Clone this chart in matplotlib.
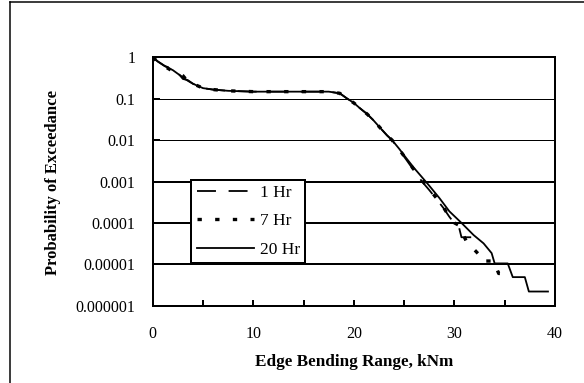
import matplotlib
matplotlib.use("Agg")
import matplotlib.pyplot as plt
from matplotlib.ticker import FixedLocator, FixedFormatter, MultipleLocator, NullLocator
from matplotlib.lines import Line2D

# ---- data ----
x_1hr = [0, 0.5, 1.2, 2.0, 2.5, 3.0, 3.5, 4.0, 5.0, 6.0, 7.5, 10, 12.5, 15, 17.5,
         18.6, 19.3, 20.0, 20.6, 21.3, 21.9, 22.6, 23.3, 23.8, 24.5, 25.2, 26.0,
         26.8, 27.5, 28.2, 28.9, 29.5, 29.9, 30.4, 30.7, 31.8]
p_1hr = [1.0, 0.80, 0.62, 0.52, 0.42, 0.30, 0.28, 0.23, 0.18, 0.166, 0.155, 0.148, 0.148, 0.148, 0.148,
         0.135, 0.102, 0.079, 0.059, 0.043, 0.031, 0.020, 0.013, 0.010, 0.0058, 0.0034, 0.0018,
         0.00098, 0.00062, 0.00038, 0.00023, 0.00014, 0.000105, 0.000089, 0.000045, 0.000045]

x_7hr = [0, 0.5, 1.2, 2.0, 2.5, 3.0, 3.5, 4.0, 5.0, 6.0, 7.5, 10, 12.5, 15, 17.5,
         18.6, 19.3, 20.0, 20.6, 21.3, 21.9, 22.6, 23.3, 23.8, 24.5, 25.2, 26.0,
         26.8, 27.5, 28.2, 28.9, 29.5, 30.0, 30.4, 31.2, 32.5, 32.7, 33.9, 34.4, 35.2]
p_7hr = [1.0, 0.78, 0.60, 0.46, 0.44, 0.36, 0.26, 0.23, 0.18, 0.166, 0.155, 0.148, 0.148, 0.148, 0.148,
         0.135, 0.102, 0.079, 0.059, 0.043, 0.031, 0.020, 0.013, 0.010, 0.006, 0.0035, 0.0019,
         0.00105, 0.00066, 0.0004, 0.00024, 0.00014, 0.0001, 0.000089, 0.0000355, 0.0000166,
         0.000012, 0.000012, 0.000006, 0.000006]

x_20hr = [0, 0.5, 1.2, 2.0, 2.5, 3.0, 3.5, 4.0, 5.0, 6.0, 7.5, 10, 12.5, 15, 17.5,
          18.6, 19.3, 20.0, 20.6, 21.3, 21.9, 22.6, 23.3, 23.8, 24.5, 25.2, 26.0,
          26.8, 27.5, 28.5, 29.5, 30.7, 31.9, 32.9, 33.7, 34.0, 35.3, 35.8, 37.0, 37.4, 39.3]
p_20hr = [1.0, 0.79, 0.61, 0.49, 0.40, 0.33, 0.27, 0.23, 0.18, 0.166, 0.155, 0.148, 0.148, 0.148, 0.148,
          0.135, 0.102, 0.079, 0.059, 0.043, 0.031, 0.020, 0.013, 0.010, 0.0062, 0.0037, 0.0021,
          0.00125, 0.00079, 0.0004, 0.00019, 0.0001, 0.000051, 0.000032, 0.0000186, 0.0000105,
          0.0000105, 0.0000049, 0.0000049, 0.0000022, 0.0000022]

series_labels = ["1 Hr", "7 Hr", "20 Hr"]
x_ticks = [0, 10, 20, 30, 40]
x_ticklabels = ["0", "10", "20", "30", "40"]
y_ticks = [1, 0.1, 0.01, 0.001, 0.0001, 0.00001, 0.000001]
y_ticklabels = ["1", "0.1", "0.01", "0.001", "0.0001", "0.00001", "0.000001"]
x_label = "Edge Bending Range, kNm"
y_label = "Probability of Exceedance"

# ---- figure ----
plt.rcParams['font.family'] = ['Liberation Serif', 'DejaVu Serif']
W, H = 584, 383
fig = plt.figure(figsize=(W / 100, H / 100), dpi=100)
ax_left, ax_right, ax_top, ax_bottom = 152.7, 555.0, 57.3, 305.7
ax = fig.add_axes([ax_left / W, 1 - ax_bottom / H, (ax_right - ax_left) / W, (ax_bottom - ax_top) / H])

px = 0.72  # points per pixel
ax.plot(x_1hr, p_1hr, color='black', lw=1.3, linestyle=(0, (10.5, 7.0)), label=series_labels[0])
ax.plot(x_7hr, p_7hr, color='black', lw=2.4, linestyle=(0, (1.3, 4.0)), label=series_labels[1])
ax.plot(x_20hr, p_20hr, color='black', lw=1.3, linestyle='-', label=series_labels[2])

ax.set_yscale('log')
ax.set_xlim(0, 40)
ax.set_ylim(1e-6, 1)
ax.xaxis.set_major_locator(FixedLocator(x_ticks))
ax.xaxis.set_major_formatter(FixedFormatter(x_ticklabels))
ax.xaxis.set_minor_locator(MultipleLocator(5))
ax.yaxis.set_major_locator(FixedLocator(y_ticks))
ax.yaxis.set_major_formatter(FixedFormatter(y_ticklabels))
ax.yaxis.set_minor_locator(NullLocator())

ax.tick_params(axis='x', which='both', direction='in', length=6 * px, width=2 * px,
               labelsize=11.5, pad=14.5)
ax.tick_params(axis='y', which='major', direction='in', length=7 * px, width=2 * px,
               labelsize=11.5, pad=12.5)
for s in ax.spines.values():
    s.set_linewidth(2 * px)

ax.grid(axis='y', which='major', color='black')
glw = [1, 1, 1, 2, 2, 2, 1]
for gl, w in zip(ax.yaxis.get_gridlines(), glw):
    gl.set_linewidth(w * px)
ax.set_axisbelow(True)

ax.set_xlabel(x_label, fontsize=12.3, fontweight='bold')
ax.set_ylabel(y_label, fontsize=12.0, fontweight='bold')
ax.xaxis.set_label_coords(0.5, (ax_bottom - 362) / (ax_bottom - ax_top))
ax.xaxis.label.set_va('center')
ax.yaxis.set_label_coords((53 - ax_left) / (ax_right - ax_left), 0.496)
ax.yaxis.label.set_va('center')

leg = ax.legend(loc='upper left',
                bbox_to_anchor=((191.3 - ax_left) / (ax_right - ax_left), (ax_bottom - 179.7) / (ax_bottom - ax_top)),
                borderaxespad=0, fancybox=False, framealpha=1, edgecolor='black',
                fontsize=12.5, handlelength=3.3, handletextpad=0.35, labelspacing=0.7,
                borderpad=0.3)
leg.get_frame().set_linewidth(2 * px)

# figure border (left and top edges visible)
fig.add_artist(Line2D([10 / W, 10 / W], [0, 1 - 2 / H], transform=fig.transFigure, color='black', lw=1.5 * px))
fig.add_artist(Line2D([10 / W, 1], [1 - 2 / H, 1 - 2 / H], transform=fig.transFigure, color='black', lw=1.5 * px))

fig.savefig('out.png', dpi=100)
